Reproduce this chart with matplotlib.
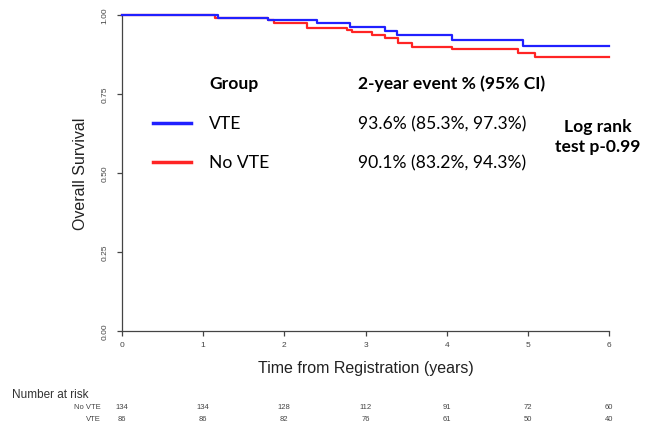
import matplotlib
matplotlib.use("Agg")
import matplotlib.pyplot as plt
from matplotlib.lines import Line2D

# ---- data ----
vte_times = [0, 1.18, 1.80, 2.40, 2.81, 3.24, 3.39, 4.06, 4.94, 6.0]
vte_surv = [1.0, 0.990, 0.985, 0.975, 0.963, 0.950, 0.938, 0.922, 0.901, 0.901]
novte_times = [0, 1.15, 1.80, 1.87, 2.28, 2.77, 2.83, 3.08, 3.24, 3.40, 3.57, 4.07, 4.88, 5.09, 6.0]
novte_surv = [1.0, 0.992, 0.985, 0.974, 0.960, 0.952, 0.945, 0.936, 0.928, 0.912, 0.899, 0.891, 0.880, 0.866, 0.866]
risk_times = [0, 1, 2, 3, 4, 5, 6]
risk_novte = [134, 134, 128, 112, 91, 72, 60]
risk_vte = [86, 86, 82, 76, 61, 50, 40]
y_ticks = [0.0, 0.25, 0.5, 0.75, 1.0]
y_ticklabels = ["0.00", "0.25", "0.50", "0.75", "1.00"]
x_ticks = [0, 1, 2, 3, 4, 5, 6]

W, H = 645, 427
fig = plt.figure(figsize=(W / 100, H / 100), dpi=100)

def fx(px):
    return px / W

def fy(py):
    return 1 - py / H

ax = fig.add_axes([fx(122), fy(332), fx(609) - fx(122), fy(16) - fy(332)])
ax.step(vte_times, vte_surv, where="post", color="#2020ff", lw=1.6, clip_on=False, zorder=3)
ax.step(novte_times, novte_surv, where="post", color="#ff2424", lw=1.6, clip_on=False, zorder=2)
ax.set_xlim(0, 6)
ax.set_ylim(0, 1)
for s in ["top", "right"]:
    ax.spines[s].set_visible(False)
for s in ["left", "bottom"]:
    ax.spines[s].set_color("#444444")
    ax.spines[s].set_linewidth(0.9)
ax.set_yticks(y_ticks)
ax.set_yticklabels(y_ticklabels, rotation=90, va="center", fontsize=6, color="#444444",
                   family="Liberation Sans")
ax.set_xticks(x_ticks)
ax.set_xticklabels([str(t) for t in x_ticks], fontsize=6, color="#444444", family="Liberation Sans")
ax.tick_params(axis="both", length=3.5, width=0.9, color="#444444", pad=4)
ax.tick_params(axis="y", pad=6)
ax.set_ylabel("Overall Survival", fontsize=11.5, family="Liberation Sans", color="#222222", labelpad=10)
ax.set_xlabel("Time from Registration (years)", fontsize=11.5, family="Liberation Sans",
              color="#222222", labelpad=8)

# number at risk table
fig.text(fx(12), fy(395), "Number at risk", fontsize=8.5, family="Liberation Sans",
         color="#333333", va="center", ha="left")
fig.text(fx(101), fy(408), "No VTE", fontsize=5.5, family="Liberation Sans", color="#444444",
         va="center", ha="right")
fig.text(fx(101), fy(420), "VTE", fontsize=5.5, family="Liberation Sans", color="#444444",
         va="center", ha="right")
for t, a, b in zip(risk_times, risk_novte, risk_vte):
    xf = fx(122) + (fx(609) - fx(122)) * t / 6
    fig.text(xf, fy(408), str(a), fontsize=5.5, family="Liberation Sans", color="#444444",
             ha="center", va="center")
    fig.text(xf, fy(420), str(b), fontsize=5.5, family="Liberation Sans", color="#444444",
             ha="center", va="center")

# legend block
lfont = "Lato"
fs = 12.6
fig.text(fx(209), fy(84), "Group", fontsize=fs, weight="bold", family=lfont, va="center", ha="left")
fig.text(fx(358), fy(84), "2-year event % (95% CI)", fontsize=fs, weight="bold", family=lfont,
         va="center", ha="left")
fig.add_artist(Line2D([fx(153), fx(191)], [fy(124), fy(124)], color="#2020ff", lw=2.5))
fig.add_artist(Line2D([fx(153), fx(191)], [fy(163), fy(163)], color="#ff2424", lw=2.5))
fig.text(fx(209), fy(124), "VTE", fontsize=fs, family=lfont, va="center", ha="left")
fig.text(fx(209), fy(163), "No VTE", fontsize=fs, family=lfont, va="center", ha="left")
fig.text(fx(358), fy(124), "93.6% (85.3%, 97.3%)", fontsize=fs, family=lfont, va="center", ha="left")
fig.text(fx(358), fy(163), "90.1% (83.2%, 94.3%)", fontsize=fs, family=lfont, va="center", ha="left")
fig.text(fx(598), fy(127), "Log rank", fontsize=fs, weight="bold", family=lfont, va="center", ha="center")
fig.text(fx(598), fy(147), "test p-0.99", fontsize=fs, weight="bold", family=lfont, va="center", ha="center")

fig.savefig("out.png", dpi=100)
